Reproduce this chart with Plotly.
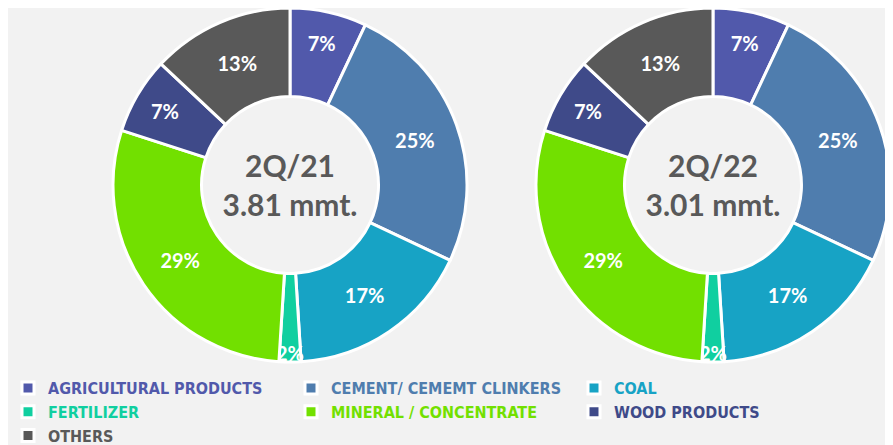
import plotly.graph_objects as go

# shipment mix by cargo type, share of volume (%)
labels = ['AGRICULTURAL PRODUCTS', 'CEMENT/ CEMEMT CLINKERS', 'COAL', 'FERTILIZER',
          'MINERAL / CONCENTRATE', 'WOOD PRODUCTS', 'OTHERS']
share_2q21 = [7, 25, 17, 2, 29, 7, 13]
share_2q22 = [7, 25, 17, 2, 29, 7, 13]
titles = ['2Q/21<br>3.81 mmt.', '2Q/22<br>3.01 mmt.']

colors = ['#5159AB', '#4F7DAE', '#17A3C5', '#10CFA0', '#72E000', '#3F4A89', '#595959']

font_main = 'Lato, Inter, DejaVu Sans, sans-serif'

# legend text takes the colour of its slice
legend_labels = ['<span style="color:%s"><b>%s</b></span>' % (c, l) for c, l in zip(colors, labels)]

fig = go.Figure()

# page body has an 8px margin, so domains are nudged up/left to compensate
domains = [[0.1165, 0.5151], [0.5901, 0.9888]]
for i, (vals, ttl) in enumerate([(share_2q21, titles[0]), (share_2q22, titles[1])]):
    fig.add_trace(go.Pie(
        labels=legend_labels,
        values=vals,
        hole=0.5,
        sort=False,
        direction='clockwise',
        rotation=0,
        marker=dict(colors=colors, line=dict(color='white', width=3)),
        texttemplate='<b>%{value}%</b>',
        textposition='inside',
        insidetextorientation='horizontal',
        textfont=dict(color='white', size=20, family=font_main),
        title=dict(text='<b>' + ttl + '</b>', position='middle center',
                   font=dict(size=30, color='#595959', family=font_main)),
        domain=dict(x=domains[i], y=[0.2045, 1.0]),
        showlegend=(i == 0),
        hoverinfo='label+percent',
    ))

fig.update_layout(
    width=893,
    height=445,
    paper_bgcolor='#f2f2f2',
    plot_bgcolor='#f2f2f2',
    margin=dict(l=0, r=0, t=0, b=0, autoexpand=False),
    uniformtext=dict(minsize=20, mode='show'),
    font=dict(family=font_main),
    legend=dict(
        orientation='h',
        x=0.0,
        y=0.0,
        xanchor='left',
        yanchor='bottom',
        entrywidth=238,
        entrywidthmode='pixels',
        font=dict(size=16, family='DejaVu Sans Condensed, Liberation Sans Narrow, sans-serif'),
        itemwidth=30,
        bgcolor='rgba(0,0,0,0)',
    ),
)

fig.write_html("out.html")
